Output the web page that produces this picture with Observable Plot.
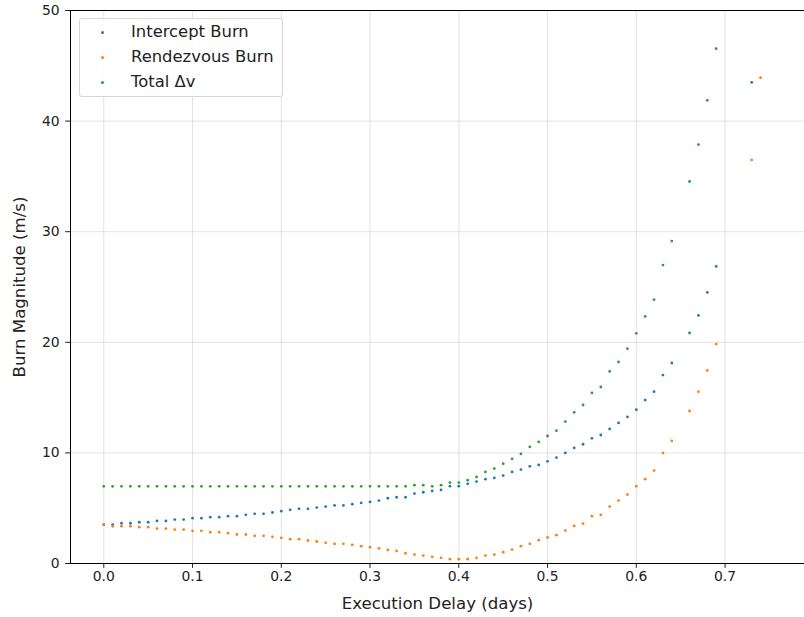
<!DOCTYPE html>
<html>
<head>
<meta charset="utf-8">
<script src="https://cdn.jsdelivr.net/npm/d3@7"></script>
<script src="https://cdn.jsdelivr.net/npm/@observablehq/plot@0.6"></script>
<style>
  html, body { margin: 0; padding: 0; background: #fff; }
  #wrap { position: relative; width: 804px; height: 617px; font-family: "DejaVu Sans", sans-serif; }
  #legend { position: absolute; left: 79px; top: 18px; width: 202px; height: 77px;
    border: 1px solid #d6d6d6; border-radius: 3px; background: rgba(255,255,255,0.85);
    font-size: 16.4px; color: #222; }
  .row { position: absolute; left: 0; height: 24px; line-height: 24px; }
  .sw { position: absolute; left: 21px; top: 11px; width: 3px; height: 3px; border-radius: 50%; }
  .lab { position: absolute; left: 51px; top: 0; white-space: nowrap; }
</style>
</head>
<body>
<div id="wrap"></div>
<script>
const delay = [0,0.01,0.02,0.03,0.04,0.05,0.06,0.07,0.08,0.09,
  0.10,0.11,0.12,0.13,0.14,0.15,0.16,0.17,0.18,0.19,
  0.20,0.21,0.22,0.23,0.24,0.25,0.26,0.27,0.28,0.29,
  0.30,0.31,0.32,0.33,0.34,0.35,0.36,0.37,0.38,0.39,
  0.40,0.41,0.42,0.43,0.44,0.45,0.46,0.47,0.48,0.49,
  0.50,0.51,0.52,0.53,0.54,0.55,0.56,0.57,0.58,0.59,
  0.60,0.61,0.62,0.63,0.64,
  0.66,0.67,0.68,0.69,
  0.73,0.74];

const intercept = [3.52,3.52,3.64,3.64,3.73,3.73,3.85,3.85,3.97,3.97,
  4.10,4.10,4.19,4.19,4.28,4.28,4.40,4.49,4.49,4.61,
  4.73,4.85,4.94,4.94,5.06,5.15,5.25,5.25,5.36,5.48,
  5.57,5.69,5.90,5.99,5.99,6.32,6.44,6.56,6.65,6.99,
  6.99,7.20,7.41,7.62,7.74,7.95,8.28,8.49,8.79,8.91,
  9.24,9.58,10.00,10.45,10.78,11.32,11.62,12.17,12.71,13.25,
  13.91,14.78,15.54,17.04,18.13,
  20.84,22.43,24.51,26.86,
  43.51,null];

const rendezvous = [3.52,3.37,3.37,3.37,3.28,3.28,3.16,3.16,3.07,3.07,
  2.95,2.95,2.83,2.83,2.74,2.62,2.62,2.50,2.50,2.41,
  2.32,2.20,2.20,2.08,1.99,1.87,1.77,1.78,1.69,1.57,
  1.48,1.36,1.23,1.14,0.93,0.81,0.72,0.60,0.51,0.39,
  0.39,0.39,0.51,0.72,0.81,1.02,1.26,1.57,1.78,2.11,
  2.35,2.56,2.98,3.40,3.61,4.28,4.40,5.15,5.69,6.23,
  6.99,7.62,8.40,10.00,11.08,
  13.79,15.54,17.46,19.84,
  36.49,43.93];

const total = [6.98,6.98,6.98,6.98,6.98,6.98,6.98,6.98,6.98,6.98,
  6.98,6.98,6.98,6.98,6.98,6.98,6.98,6.98,6.98,6.98,
  6.98,6.98,6.98,6.98,6.98,6.98,6.98,6.98,6.98,6.98,
  6.98,6.98,6.98,6.98,6.98,7.08,7.08,6.98,7.08,7.32,
  7.32,7.53,7.83,8.28,8.58,9.03,9.46,9.91,10.54,10.99,
  11.53,12.01,12.83,13.67,14.33,15.42,15.96,17.37,18.22,19.42,
  20.81,22.34,23.85,26.98,29.15,
  34.54,37.88,41.88,46.55,
  null,null];

const seriesNames = ["Intercept Burn", "Rendezvous Burn", "Total Δv"];
const seriesColors = ["#1f77b4", "#ff7f0e", "#2ca02c"];
const seriesValues = [intercept, rendezvous, total];
const xTicks = [0, 0.1, 0.2, 0.3, 0.4, 0.5, 0.6, 0.7];
const yTicks = [0, 10, 20, 30, 40, 50];
const xDomain = [-0.0375, 0.7895];
const yDomain = [0, 50];

const rows = [];
seriesNames.forEach((name, s) => {
  delay.forEach((d, i) => {
    const v = seriesValues[s][i];
    if (v != null) rows.push({delay: d, value: v, series: name});
  });
});

const chart = Plot.plot({
  width: 804,
  height: 617,
  marginLeft: 70,
  marginRight: 0,
  marginTop: 10,
  marginBottom: 54,
  style: {fontFamily: "DejaVu Sans, sans-serif", fontSize: "13.9px", color: "#222", background: "#fff"},
  x: {domain: xDomain},
  y: {domain: yDomain},
  color: {domain: seriesNames, range: seriesColors},
  marks: [
    Plot.gridX(xTicks, {stroke: "#b0b0b0", strokeOpacity: 0.45, strokeWidth: 0.8}),
    Plot.gridY(yTicks, {stroke: "#b0b0b0", strokeOpacity: 0.45, strokeWidth: 0.8}),
    Plot.axisX(xTicks, {tickSize: 4.9, tickPadding: 3, tickFormat: d3.format(".1f"), fontSize: 13.9,
      label: "Execution Delay (days)", labelAnchor: "center", labelArrow: "none", labelOffset: 45}),
    Plot.axisY(yTicks, {tickSize: 4.9, tickPadding: 6, fontSize: 13.9,
      label: "Burn Magnitude (m/s)", labelAnchor: "center", labelArrow: "none", labelOffset: 57}),
    Plot.dot(rows, {x: "delay", y: "value", fill: "series", r: 1.4, stroke: "none"}),
    Plot.ruleY([yDomain[0], yDomain[1]], {stroke: "#000", strokeWidth: 1}),
    Plot.ruleX([xDomain[0]], {stroke: "#000", strokeWidth: 1})
  ]
});

chart.querySelectorAll('g[aria-label="x-axis label"] text, g[aria-label="y-axis label"] text')
  .forEach(t => t.style.fontSize = "16.6px");

const wrap = document.getElementById("wrap");
wrap.appendChild(chart);

const legend = document.createElement("div");
legend.id = "legend";
seriesNames.forEach((name, i) => {
  const row = document.createElement("div");
  row.className = "row";
  row.style.top = (1 + i * 25) + "px";
  row.style.width = "100%";
  const sw = document.createElement("div");
  sw.className = "sw";
  sw.style.background = seriesColors[i];
  const lab = document.createElement("div");
  lab.className = "lab";
  lab.textContent = name;
  row.appendChild(sw);
  row.appendChild(lab);
  legend.appendChild(row);
});
wrap.appendChild(legend);
</script>
</body>
</html>
